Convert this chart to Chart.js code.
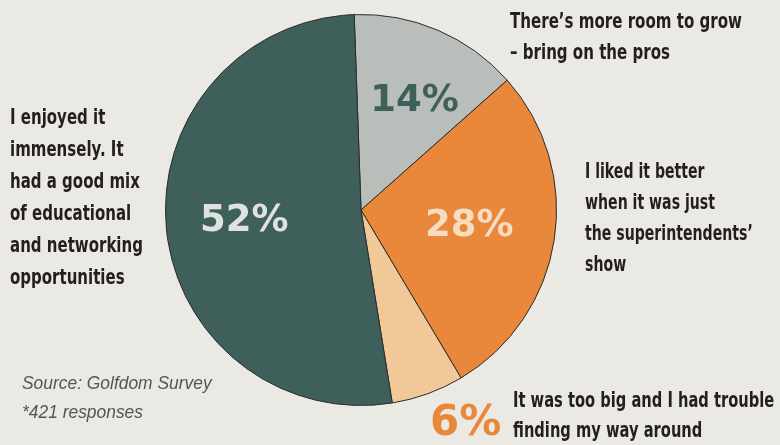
<!DOCTYPE html>
<html lang="en">
<head>
  <meta charset="UTF-8">
  <title>Golfdom Survey</title>
  <style>
    html, body {
      margin: 0;
      padding: 0;
      background: #ebe9e4;
    }
    #wrap {
      position: relative;
      width: 780px;
      height: 445px;
      overflow: hidden;
    }
    #chart {
      position: absolute;
      left: 0;
      top: 0;
    }
    .note {
      position: absolute;
      font-family: "DejaVu Sans", "Roboto", sans-serif;
      font-weight: bold;
      font-size: 22px;
      line-height: 31px;
      color: #231f20;
      white-space: nowrap;
      transform-origin: 0 0;
    }
    .source {
      position: absolute;
      left: 22px;
      top: 369px;
      font-family: "Liberation Sans", Arial, sans-serif;
      font-style: italic;
      font-size: 17.5px;
      line-height: 29px;
      color: #555;
      transform-origin: 0 0;
    }
  </style>
</head>
<body>
  <div id="wrap">
    <canvas id="chart" width="780" height="445"></canvas>
    <div class="note" data-w="232" style="left:510px; top:5px;">There’s more room to grow<br>– bring on the pros</div>
    <div class="note" data-w="168" style="left:585px; top:155px;">I liked it better<br>when it was just<br>the superintendents’<br>show</div>
    <div class="note" data-w="133" style="left:10px; top:101px; line-height:32px;">I enjoyed it<br>immensely. It<br>had a good mix<br>of educational<br>and networking<br>opportunities</div>
    <div class="note" data-w="261" style="left:513px; top:385px; line-height:30px;">It was too big and I had trouble<br>finding my way around</div>
    <div class="source" data-w="190">Source: Golfdom Survey<br>*421 responses</div>
  </div>

  <script src="https://cdn.jsdelivr.net/npm/chart.js"></script>
  <script>
    const answers = [
      "There's more room to grow - bring on the pros",
      "I liked it better when it was just the superintendents' show",
      "It was too big and I had trouble finding my way around",
      "I enjoyed it immensely. It had a good mix of educational and networking opportunities"
    ];
    const shares = [14, 28, 6, 52];
    const sliceColors = ["#b9beba", "#e9873b", "#f1c999", "#3e5f5a"];
    const labelColors = ["#3e5f5a", "#f6dcc0", "#e9873b", "#dfe2df"];
    // where each % label sits: fraction of radius, angle nudge in degrees, font size
    const labelRadius = [0.62, 0.56, 1.22, 0.6];
    const labelShift = [3, 0, -6, 0];
    const labelSize = [37, 37, 42, 37];

    // squeeze the annotation text to a condensed look
    document.querySelectorAll('[data-w]').forEach(el => {
      const k = +el.dataset.w / el.scrollWidth;
      el.style.transform = 'scaleX(' + k + ')';
    });

    const pctLabels = {
      id: 'pctLabels',
      afterDatasetsDraw(chart) {
        const ctx = chart.ctx;
        const arcs = chart.getDatasetMeta(0).data;
        ctx.save();
        ctx.textAlign = 'center';
        ctx.textBaseline = 'middle';
        arcs.forEach((arc, i) => {
          const p = arc.getProps(['x', 'y', 'startAngle', 'endAngle', 'outerRadius'], true);
          const mid = (p.startAngle + p.endAngle) / 2 + labelShift[i] * Math.PI / 180;
          const r = p.outerRadius * labelRadius[i];
          ctx.font = "bold " + labelSize[i] + "px 'DejaVu Sans', 'Liberation Sans', sans-serif";
          ctx.fillStyle = labelColors[i];
          ctx.fillText(shares[i] + '%', p.x + Math.cos(mid) * r, p.y + Math.sin(mid) * r);
        });
        ctx.restore();
      }
    };

    new Chart(document.getElementById('chart'), {
      type: 'pie',
      data: {
        labels: answers,
        datasets: [{
          data: shares,
          backgroundColor: sliceColors,
          borderColor: '#2b2b2b',
          borderWidth: 1
        }]
      },
      options: {
        responsive: false,
        animation: false,
        rotation: -2,
        layout: { padding: { left: 165, right: 223, top: 14, bottom: 39 } },
        plugins: {
          legend: { display: false },
          tooltip: { enabled: false }
        }
      },
      plugins: [pctLabels]
    });
  </script>
</body>
</html>
